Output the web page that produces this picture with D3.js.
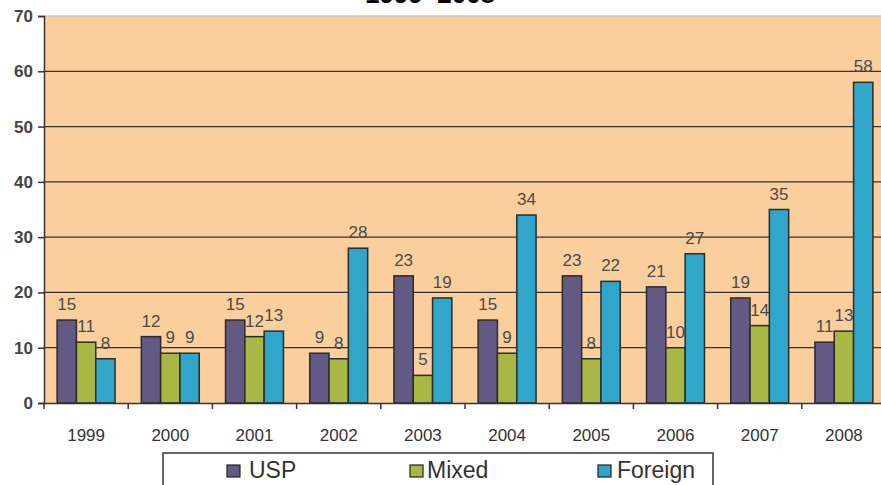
<!DOCTYPE html>
<html><head><meta charset="utf-8">
<script src="https://cdn.jsdelivr.net/npm/d3@7"></script>
<style>body{margin:0;background:#fff}svg{display:block;font-family:"Liberation Sans",Arial,sans-serif}</style>
</head><body><svg id="c" width="881" height="485"></svg>
<script>
const years = ["1999","2000","2001","2002","2003","2004","2005","2006","2007","2008"];
const seriesNames = ["USP","Mixed","Foreign"];
const usp = [15,12,15,9,23,15,23,21,19,11];
const mixed = [11,9,12,8,5,9,8,10,14,13];
const foreign = [8,9,13,28,19,34,22,27,35,58];
const yTicks = [0,10,20,30,40,50,60,70];
const colors = ["#625a84","#a9b845","#30a6ca"];
const title = "1999–2008";

const svg = d3.select("#c");
const values = [usp, mixed, foreign];
const x = d3.scaleBand().domain(years).range([44, 886]).paddingInner(0).paddingOuter(0);
const xs = d3.scaleBand().domain(seriesNames).range([0, x.bandwidth()]).paddingInner(0).paddingOuter(0.68);
const y = d3.scaleLinear().domain([0,70]).range([403,16]);

svg.append("text").attr("x",430).attr("y",3).attr("text-anchor","middle")
  .attr("font-size",26).attr("font-weight","bold").attr("fill","#000").text(title);

svg.append("rect").attr("x",44).attr("y",y(70)).attr("width",881-44).attr("height",y(0)-y(70)).attr("fill","#fbcf9d");
svg.append("line").attr("x1",44).attr("x2",881).attr("y1",y(70)).attr("y2",y(70)).attr("stroke","#c8c8c8").attr("stroke-width",1.5);

// gridlines
svg.append("g").selectAll("line").data(yTicks.filter(d=>d>0&&d<70)).join("line")
  .attr("x1",44).attr("x2",881).attr("y1",d=>y(d)).attr("y2",d=>y(d)).attr("stroke","#333").attr("stroke-width",1.2);

// bars
seriesNames.forEach((s,i)=>{
  const g = svg.append("g");
  g.selectAll("rect").data(years).join("rect")
    .attr("x",d=>x(d)+xs(s)).attr("y",(d,j)=>y(values[i][j]))
    .attr("width",xs.bandwidth()).attr("height",(d,j)=>y(0)-y(values[i][j]))
    .attr("fill",colors[i]).attr("stroke","#2b2b2b").attr("stroke-width",1.5);
  g.selectAll("text").data(years).join("text")
    .attr("x",d=>x(d)+xs(s)+xs.bandwidth()/2).attr("y",(d,j)=>y(values[i][j])-10)
    .attr("text-anchor","middle").attr("font-size",17).attr("fill","#4a4a4a")
    .text((d,j)=>values[i][j]);
});

// y axis
const ya = d3.axisLeft(y).tickValues(yTicks).tickSize(6).tickPadding(5);
const yg = svg.append("g").attr("transform","translate(44,0)").call(ya);
yg.select(".domain").attr("stroke","#333").attr("stroke-width",1.5);
yg.selectAll(".tick line").attr("stroke","#333").attr("stroke-width",1.5);
yg.selectAll("text").attr("font-size",17).attr("fill","#444").attr("font-weight","bold").style("font-family","Liberation Sans, Arial");

// x axis
const xa = d3.axisBottom(x).tickSize(0).tickPadding(26);
const xg = svg.append("g").attr("transform","translate(0,403)").call(xa);
xg.select(".domain").attr("stroke","#333").attr("stroke-width",1.5);
xg.selectAll("text").attr("font-size",17).attr("fill","#333").style("font-family","Liberation Sans, Arial");
xg.selectAll(".sep").data(years).join("line").attr("class","sep")
  .attr("x1",d=>x(d)).attr("x2",d=>x(d)).attr("y1",0).attr("y2",6).attr("stroke","#333").attr("stroke-width",1.5);

// legend
const lg = svg.append("g");
lg.append("rect").attr("x",163).attr("y",453).attr("width",550).attr("height",40).attr("fill","#fff").attr("stroke","#333").attr("stroke-width",1.5);
const lx = [227,410,598];
const tx = [249,427,617];
seriesNames.forEach((s,i)=>{
  lg.append("rect").attr("x",lx[i]).attr("y",465).attr("width",13).attr("height",12).attr("fill",colors[i]).attr("stroke","#222").attr("stroke-width",1.2);
  lg.append("text").attr("x",tx[i]).attr("y",478).attr("font-size",23).attr("fill","#333").text(s);
});
</script></body></html>
